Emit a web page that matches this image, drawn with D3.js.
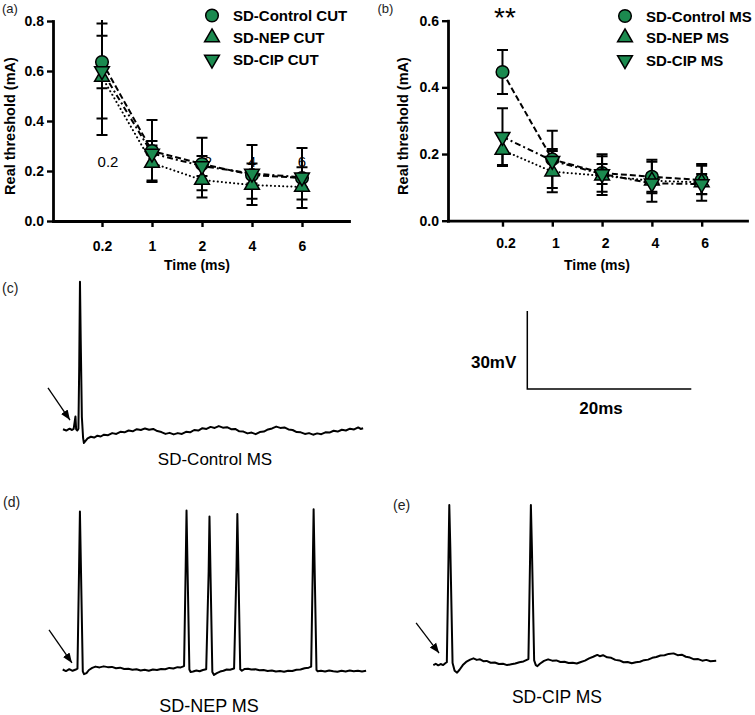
<!DOCTYPE html>
<html>
<head>
<meta charset="utf-8">
<script src="https://cdn.jsdelivr.net/npm/d3@7"></script>
<style>
body { margin: 0; background: #fff; }
svg { font-family: Arial, "Liberation Sans", sans-serif; }
</style>
</head>
<body>
<svg id="fig" width="755" height="715"></svg>
<script>
// stimulus durations, shared by both threshold panels
var timeLabels = ["0.2", "1", "2", "4", "6"];

// (a) cutaneous afferents, mean and SEM (mA)
var cutControl = [0.636, 0.28, 0.228, 0.184, 0.172];
var cutControlErr = [0.105, 0.124, 0.105, 0.12, 0.12];
var cutNep = [0.576, 0.232, 0.164, 0.144, 0.136];
var cutNepErr = [0.232, 0.07, 0.07, 0.055, 0.05];
var cutCip = [0.60, 0.27, 0.22, 0.19, 0.175];
var cutCipErr = [0.19, 0.05, 0.04, 0.04, 0.04];

// (b) muscle spindle afferents
var msControl = [0.446, 0.184, 0.143, 0.132, 0.122];
var msControlErr = [0.066, 0.086, 0.056, 0.045, 0.043];
var msNep = [0.212, 0.147, 0.135, 0.12, 0.115];
var msNepErr = [0.048, 0.062, 0.058, 0.063, 0.055];
var msCip = [0.252, 0.18, 0.14, 0.112, 0.11];
var msCipErr = [0.085, 0.035, 0.03, 0.03, 0.03];

var yTicksA = [0, 0.2, 0.4, 0.6, 0.8];
var yTicksB = [0, 0.2, 0.4, 0.6];

// stray labels printed inside panel (a)
var ghostIdx = [0, 2, 3, 4];
var ghostText = ["0.2", "2", "4", "6"];

// recorded traces, [time ms, mV]
var traceControl = [[0,0.3],[0.4,-0.2],[0.8,0.5],[1.1,0],[1.3,0.4],[1.52,5.2],[1.6,0.3],[1.75,-0.2],[1.88,0.5],
  [1.98,25],[2.07,57],[2.16,35],[2.3,5],[2.45,-3],[2.55,-5],[2.75,-4.2],[3,-3.2],[3.4,-2.6],[3.8,-2.9],
  [4.2,-2.2],[4.6,-2.5],[5,-1.8],[5.5,-2],[6,-1.2],[6.5,-1.5],[7,-0.7],[7.5,-0.9],[8,-0.2],[8.5,-0.5],
  [9,0.3],[9.5,0],[10,0.6],[10.5,0.1],[11,0.4],[11.5,-0.4],[12,-0.8],[12.5,-1.5],[13,-1.1],[13.5,-1.7],
  [14,-1.2],[14.5,-1.5],[15,-0.7],[15.5,-0.9],[16,0],[16.5,-0.2],[17,0.7],[17.5,0.4],[18,1.2],[18.5,0.8],
  [19,1.5],[19.5,0.9],[20,1.1],[20.5,0.3],[21,0.4],[21.5,-0.5],[22,-0.6],[22.5,-1.3],[23,-1],[23.5,-1.6],
  [24,-0.8],[24.5,-0.6],[25,0.2],[25.5,0.6],[26,1.3],[26.5,0.8],[27,1],[27.5,0.2],[28,0],[28.5,-0.8],
  [29,-0.9],[29.5,-1.5],[30,-1.2],[30.5,-1.8],[31,-1.3],[31.5,-1.6],[32,-0.9],[32.5,-1],[33,-0.3],
  [33.5,-0.6],[34,0.1],[34.5,-0.2],[35,0.5],[35.5,0.2],[36,1],[36.3,0.4],[36.6,0.7]];

var traceNep = [[0,0.2],[0.4,-0.4],[0.8,0.3],[1.2,-0.3],[1.6,0.2],[1.8,0.5],[2,40],[2.1,61],[2.22,40],[2.45,-0.5],
  [2.6,-1.6],[2.9,-1.2],[3.2,0],[3.6,0.8],[4,1.3],[4.5,1],[5,1.4],[5.5,1.1],[6,1.2],[6.5,0.7],[7,0.9],
  [7.5,0.4],[8,0.5],[8.5,0.1],[9,0.3],[9.5,-0.2],[10,0.1],[10.5,-0.3],[11,0.2],[11.5,0],[12,0.4],[12.5,0.3],
  [13,0.8],[13.5,0.6],[14,1.1],[14.4,1],[14.8,1.5],[15,40],[15.1,61.3],[15.22,40],[15.45,0.2],[15.6,-0.8],
  [15.9,-0.6],[16.3,-0.2],[16.7,-0.5],[17.1,0],[17.5,0.3],[17.8,38],[17.9,59],[18.02,38],[18.25,-0.8],
  [18.45,-1.9],[18.8,-1.2],[19.2,-0.6],[19.6,-0.3],[20,0.2],[20.4,0.1],[20.9,0.6],[21.2,40],[21.3,60],
  [21.42,40],[21.65,0.3],[21.85,-0.3],[22.2,0.4],[22.6,0.5],[23,0.2],[23.5,0.3],[24,-0.1],[24.5,0],
  [25,-0.4],[25.5,-0.2],[26,-0.6],[26.5,-0.4],[27,-0.7],[27.5,-0.3],[28,-0.4],[28.5,0.1],[29,0.2],
  [29.5,0.7],[30,0.9],[30.3,1.3],[30.5,40],[30.6,61.8],[30.72,40],[30.95,0],[31.1,-0.5],[31.5,-0.3],
  [32,-0.6],[32.5,-0.2],[33,-0.5],[33.5,-0.7],[34,-0.3],[34.5,-0.6],[35,-0.2],[35.5,-0.5],[36,-0.3],
  [36.5,-0.6],[37,-0.3]];

var traceCip = [[0,-0.8],[0.3,-0.3],[0.6,-0.9],[0.9,-0.4],[1.2,-0.8],[1.5,0],[1.65,0.3],[1.85,40],[1.95,60.8],
  [2.07,45],[2.35,0],[2.6,-3],[2.9,-3.7],[3.2,-2.6],[3.6,-0.8],[4,0.4],[4.5,1.3],[4.9,1.8],[5.3,1.2],
  [5.7,1.4],[6.1,0.7],[6.5,0.8],[7,0.1],[7.5,0.2],[8,-0.4],[8.5,-0.3],[9,-0.8],[9.5,-0.5],[10,-0.2],
  [10.5,0.3],[11,0.6],[11.4,1.2],[11.6,1.5],[11.8,40],[11.9,60.8],[12.02,45],[12.3,1],[12.5,-0.8],
  [12.7,-1.2],[13,-0.3],[13.5,0.8],[14,1.4],[14.5,0.9],[15,1],[15.5,0.4],[16,0.5],[16.5,0],[17,0.1],
  [17.5,-0.2],[18,0.4],[18.5,0.9],[19,1.8],[19.5,2.4],[20,3.1],[20.3,2.6],[20.7,3],[21.2,2.2],[21.7,2],
  [22.2,1.2],[22.7,1],[23.2,0.3],[23.7,0.4],[24.2,-0.1],[24.7,0.3],[25.2,0.5],[25.7,1.1],[26.2,1.3],
  [26.7,2],[27.2,2.3],[27.7,2.9],[28.2,3],[28.7,3.5],[29.3,3.7],[29.8,3],[30.3,3.2],[30.8,2.4],[31.3,2.1],
  [31.8,1.4],[32.3,1.5],[32.8,0.9],[33.3,1.2],[33.8,0.7],[34.5,0.9]];

var green = "#1b8a4f";
var svg = d3.select("#fig");

svg.append("defs").append("marker")
  .attr("id", "arrowhead")
  .attr("viewBox", "0 0 10 10")
  .attr("refX", 10).attr("refY", 5)
  .attr("markerWidth", 10).attr("markerHeight", 10)
  .attr("markerUnits", "userSpaceOnUse")
  .attr("orient", "auto")
  .append("path").attr("d", "M0,1 L10,5 L0,9 Z").attr("fill", "#000");

var symCircle = d3.symbol().type(d3.symbolCircle).size(125);
var symTri = d3.symbol().type(d3.symbolTriangle).size(95);

function markerPath(g, kind, cx, cy) {
  var p = g.append("path")
    .attr("d", kind == "circle" ? symCircle() : symTri())
    .attr("fill", green).attr("stroke", "#000").attr("stroke-width", 1.5);
  if (kind == "down") p.attr("transform", "translate(" + cx + "," + cy + ") rotate(180)");
  else p.attr("transform", "translate(" + cx + "," + cy + ")");
}

function drawPanel(cfg) {
  var g = svg.append("g");
  var x = cfg.x, y = cfg.y;

  var clipId = "clip" + cfg.id;
  svg.select("defs").append("clipPath").attr("id", clipId)
    .append("rect").attr("x", x.range()[0]).attr("y", y.range()[1] - 1)
    .attr("width", x.range()[1] - x.range()[0]).attr("height", y.range()[0] - y.range()[1] + 10);

  var plot = g.append("g").attr("clip-path", "url(#" + clipId + ")");

  if (cfg.ghost) {
    cfg.ghost.idx.forEach(function(i, k) {
      plot.append("text").text(cfg.ghost.text[k])
        .attr("x", x(i) + (k < 2 ? 6 : 0)).attr("y", y(0.235) + 5)
        .attr("text-anchor", "middle").style("font-size", "15px").attr("fill", "#000");
    });
  }

  var line = d3.line().x(function(d, i) { return x(i); }).y(function(d) { return y(d); });
  cfg.series.forEach(function(s) {
    plot.append("path").datum(s.values).attr("d", line)
      .attr("fill", "none").attr("stroke", "#000").attr("stroke-width", 2)
      .attr("stroke-dasharray", s.dash).attr("stroke-linecap", s.cap || "butt");
  });

  cfg.series.forEach(function(s) {
    s.values.forEach(function(v, i) {
      var hi = y(v + s.err[i]), lo = y(v - s.err[i]), cx = x(i);
      plot.append("line").attr("x1", cx).attr("x2", cx).attr("y1", hi).attr("y2", lo)
        .attr("stroke", "#000").attr("stroke-width", 2);
      [hi, lo].forEach(function(yy) {
        plot.append("line").attr("x1", cx - 5.5).attr("x2", cx + 5.5).attr("y1", yy).attr("y2", yy)
          .attr("stroke", "#000").attr("stroke-width", 2);
      });
    });
  });

  cfg.series.forEach(function(s) {
    s.values.forEach(function(v, i) { markerPath(plot, s.kind, x(i), y(v)); });
  });

  var xAxis = g.append("g").attr("transform", "translate(0," + y(0) + ")")
    .call(d3.axisBottom(x).tickValues([0, 1, 2, 3, 4])
      .tickFormat(function(i) { return timeLabels[i]; })
      .tickSizeInner(6).tickSizeOuter(0).tickPadding(cfg.xPad));
  var yAxis = g.append("g").attr("transform", "translate(" + x.range()[0] + ",0)")
    .call(d3.axisLeft(y).tickValues(cfg.yTicks).tickFormat(d3.format(".1f"))
      .tickSizeInner(6).tickSizeOuter(0).tickPadding(3));
  [xAxis, yAxis].forEach(function(a) {
    a.select(".domain").attr("stroke-width", 2.8).attr("stroke-linecap", "square");
    a.selectAll(".tick line").attr("stroke-width", 2.4);
    a.selectAll(".tick text").style("font-size", "14px").style("font-weight", "bold").attr("fill", "#000");
  });
  xAxis.selectAll(".tick text").attr("dx", cfg.xShift);

  g.append("text").text("Time (ms)")
    .attr("x", cfg.titleX).attr("y", 270).attr("text-anchor", "middle")
    .style("font-size", "14px").style("font-weight", "bold");
  g.append("text").text("Real threshold (mA)")
    .attr("transform", "translate(" + cfg.yTitleX + ",126) rotate(-90)")
    .attr("text-anchor", "middle").style("font-size", "14.5px").style("font-weight", "bold");

  g.append("text").text(cfg.tag).attr("x", cfg.tagX).attr("y", 12.5)
    .style("font-size", "13px").attr("fill", "#222");

  cfg.series.forEach(function(s, k) {
    var ly = cfg.legendY[k];
    markerPath(g, s.kind, cfg.legendX, ly);
    g.append("text").text(s.name).attr("x", cfg.legendX + 21).attr("y", ly + 5.5)
      .style("font-size", "15px").style("font-weight", "bold");
  });
}

drawPanel({
  id: "a", tag: "(a)", tagX: 2,
  x: d3.scaleLinear().domain([-0.98, 4.94]).range([53, 349]),
  y: d3.scaleLinear().domain([0, 0.8]).range([221, 21]),
  yTicks: yTicksA, xPad: 14, xShift: 0, titleX: 197, yTitleX: 15,
  legendX: 212, legendY: [15.5, 37.5, 59.5],
  ghost: { idx: ghostIdx, text: ghostText },
  series: [
    { name: "SD-Control CUT", kind: "circle", values: cutControl, err: cutControlErr, dash: "6,3" },
    { name: "SD-NEP CUT", kind: "up", values: cutNep, err: cutNepErr, dash: "0.1,4", cap: "round" },
    { name: "SD-CIP CUT", kind: "down", values: cutCip, err: cutCipErr, dash: "6,3,2,3" }
  ]
});

drawPanel({
  id: "b", tag: "(b)", tagX: 377.5,
  x: d3.scaleLinear().domain([-1.094, 4.91]).range([448, 747]),
  y: d3.scaleLinear().domain([0, 0.6]).range([220.7, 20.7]),
  yTicks: yTicksB, xPad: 11, xShift: 3, titleX: 597, yTitleX: 408,
  legendX: 625, legendY: [16, 37.5, 60],
  series: [
    { name: "SD-Control MS", kind: "circle", values: msControl, err: msControlErr, dash: "6,3" },
    { name: "SD-NEP MS", kind: "up", values: msNep, err: msNepErr, dash: "0.1,4", cap: "round" },
    { name: "SD-CIP MS", kind: "down", values: msCip, err: msCipErr, dash: "6,3,2,3" }
  ]
});

svg.append("text").text("**").attr("x", 505).attr("y", 27).attr("text-anchor", "middle")
  .style("font-size", "28px");

// 8.2 px per ms and 2.6 px per mV, same as the scale bar
function traceScales(x0, y0) {
  return {
    x: d3.scaleLinear().domain([0, 20]).range([x0, x0 + 164]),
    y: d3.scaleLinear().domain([0, 30]).range([y0, y0 - 78])
  };
}

function drawTrace(data, x0, y0, arrow) {
  var s = traceScales(x0, y0);
  svg.append("path").datum(data)
    .attr("d", d3.line().x(function(d) { return s.x(d[0]); }).y(function(d) { return s.y(d[1]); }))
    .attr("fill", "none").attr("stroke", "#000").attr("stroke-width", 2)
    .attr("stroke-linejoin", "round");
  svg.append("line")
    .attr("x1", s.x(arrow.tail[0])).attr("y1", s.y(arrow.tail[1]))
    .attr("x2", s.x(arrow.tip[0])).attr("y2", s.y(arrow.tip[1]))
    .attr("stroke", "#000").attr("stroke-width", 1.3).attr("marker-end", "url(#arrowhead)");
}

drawTrace(traceControl, 63, 430, { tail: [-1.83, 16.2], tip: [0.85, 3.8] });
drawTrace(traceNep, 62.7, 670, { tail: [-1.67, 15.4], tip: [1.13, 2.7] });
drawTrace(traceCip, 433.3, 663, { tail: [-2.1, 15.4], tip: [0.7, 3.8] });

// scale bar: 20 ms by 30 mV
var bar = traceScales(527.3, 389);
svg.append("path")
  .attr("d", "M" + bar.x(0) + "," + bar.y(30) + "L" + bar.x(0) + "," + bar.y(0) + "L" + bar.x(20) + "," + bar.y(0))
  .attr("fill", "none").attr("stroke", "#000").attr("stroke-width", 1.5);
svg.append("text").text("30mV").attr("x", bar.x(0) - 11).attr("y", 368)
  .attr("text-anchor", "end").style("font-size", "17px").style("font-weight", "bold");
svg.append("text").text("20ms").attr("x", bar.x(9)).attr("y", 414)
  .attr("text-anchor", "middle").style("font-size", "17px").style("font-weight", "bold");

var tags = [["(c)", 2, 293], ["(d)", 3, 507], ["(e)", 393, 510]];
tags.forEach(function(t) {
  svg.append("text").text(t[0]).attr("x", t[1]).attr("y", t[2]).style("font-size", "14px").attr("fill", "#222");
});

var captions = [["SD-Control MS", 215, 465, 17], ["SD-NEP MS", 209, 712, 18], ["SD-CIP MS", 557, 703, 17.5]];
captions.forEach(function(c) {
  svg.append("text").text(c[0]).attr("x", c[1]).attr("y", c[2]).attr("text-anchor", "middle")
    .style("font-size", c[3] + "px");
});
</script>
</body>
</html>
